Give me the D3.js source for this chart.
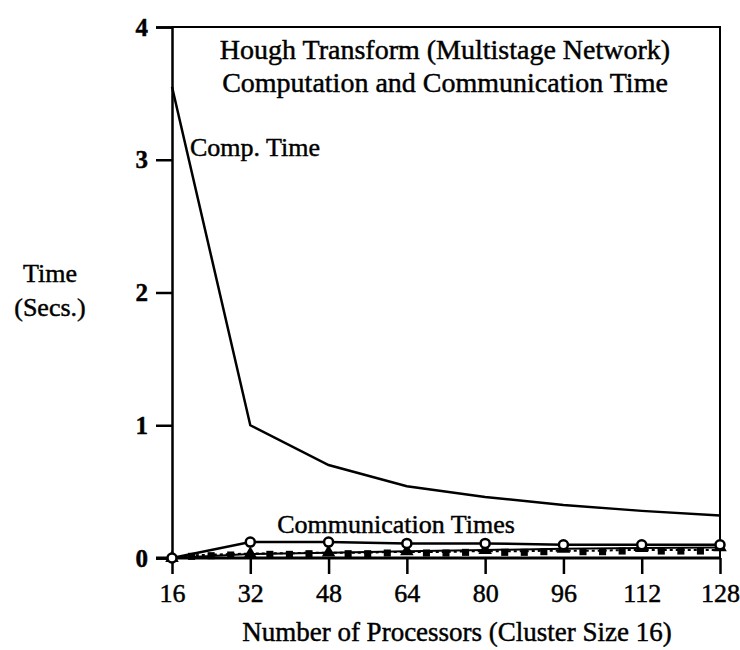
<!DOCTYPE html>
<html>
<head>
<meta charset="utf-8">
<script src="https://cdn.jsdelivr.net/npm/d3@7"></script>
<style>
body { margin: 0; background: #fff; }
text { font-family: "Liberation Serif", "DejaVu Serif", serif; fill: #000; stroke: #000; stroke-width: 0.45px; }
</style>
</head>
<body>
<div class="chart"></div>
<script>
const procs = [16, 32, 48, 64, 80, 96, 112, 128]
const compTime = [3.55, 1.0, 0.70, 0.54, 0.46, 0.40, 0.355, 0.32]
const commCircle = [0, 0.12, 0.12, 0.11, 0.11, 0.10, 0.10, 0.10]
const commTriangle = [0, 0.03, 0.04, 0.05, 0.06, 0.07, 0.075, 0.08]
const fineProcs = [20, 24, 28, 36, 40, 44, 52, 56, 60, 68, 72, 76, 84, 88, 92, 100, 104, 108, 116, 120, 124]
const commSquare = [0.02, 0.025, 0.03, 0.035, 0.035, 0.04, 0.04, 0.04, 0.045, 0.045, 0.045, 0.05, 0.05, 0.05, 0.055, 0.055, 0.055, 0.06, 0.06, 0.06, 0.06]
const yTicks = [0, 1, 2, 3, 4]
const titleLines = ['Hough Transform (Multistage Network)', 'Computation and Communication Time']

const W = 740, H = 650
const svg = d3.select('.chart').append('svg')
  .attr('width', W).attr('height', H)

const x = d3.scaleLinear().domain([16, 128]).range([172, 720])
const y = d3.scaleLinear().domain([0, 4]).range([558, 27])

// frame (top + right)
svg.append('path')
  .attr('d', `M${x(16)},${y(4)}H${x(128)}V${y(0)}`)
  .attr('fill', 'none').attr('stroke', '#000').attr('stroke-width', 2)

// y axis
const yAxis = svg.append('g')
  .attr('transform', `translate(${x(16)},0)`)
  .call(d3.axisLeft(y).tickValues(yTicks).tickSize(16).tickPadding(8).tickFormat(d3.format('d')))
yAxis.select('.domain').attr('stroke-width', 2.5)
yAxis.selectAll('.tick line').attr('stroke-width', 2.5)
yAxis.selectAll('text').style('font-size', '25px').style('font-weight', 'bold')
  .style('font-family', '"Liberation Serif", serif').attr('fill', '#000')

// x axis
const xAxis = svg.append('g')
  .attr('transform', `translate(0,${y(0)})`)
  .call(d3.axisBottom(x).tickValues(procs).tickSize(16).tickPadding(10))
xAxis.select('.domain').remove()
xAxis.append('line').attr('x1', x(16) - 16).attr('x2', x(128)).attr('stroke', '#000').attr('stroke-width', 3)
xAxis.selectAll('.tick line').attr('stroke-width', 2.5)
xAxis.selectAll('text').style('font-size', '26px')
  .style('font-family', '"Liberation Serif", serif').attr('fill', '#000')

const line = d3.line().x(d => x(d[0])).y(d => y(d[1]))

// computation time
svg.append('path')
  .datum(procs.map((p, i) => [p, compTime[i]]))
  .attr('d', line).attr('fill', 'none').attr('stroke', '#000').attr('stroke-width', 2.5)

// communication series
const sq = [[16, 0]].concat(fineProcs.map((p, i) => [p, commSquare[i]])).concat([[128, 0.06]])
svg.append('path').datum(sq).attr('d', line)
  .attr('fill', 'none').attr('stroke', '#000').attr('stroke-width', 2).attr('stroke-dasharray', '3,3')
svg.selectAll('.sq').data(fineProcs.map((p, i) => [p, commSquare[i]])).enter()
  .append('path').attr('class', 'sq')
  .attr('transform', d => `translate(${x(d[0])},${y(d[1]) + 1})`)
  .attr('d', d3.symbol().type(d3.symbolSquare).size(50))
  .attr('fill', '#000')

const tri = procs.map((p, i) => [p, commTriangle[i]])
svg.append('path').datum(tri).attr('d', line)
  .attr('fill', 'none').attr('stroke', '#000').attr('stroke-width', 2)
svg.selectAll('.tri').data(tri).enter()
  .append('path').attr('class', 'tri')
  .attr('transform', d => `translate(${x(d[0])},${y(d[1])})`)
  .attr('d', d3.symbol().type(d3.symbolTriangle).size(80))
  .attr('fill', '#000')

const circ = procs.map((p, i) => [p, commCircle[i]])
svg.append('path').datum(circ).attr('d', line)
  .attr('fill', 'none').attr('stroke', '#000').attr('stroke-width', 2.5)
svg.selectAll('.circ').data(circ).enter()
  .append('circle').attr('class', 'circ')
  .attr('cx', d => x(d[0])).attr('cy', d => y(d[1]))
  .attr('r', 4.5).attr('fill', '#fff').attr('stroke', '#000').attr('stroke-width', 2.5)

// texts
svg.selectAll('.title').data(titleLines).enter()
  .append('text').attr('class', 'title')
  .attr('x', 445).attr('y', (d, i) => 59 + i * 33)
  .attr('text-anchor', 'middle').style('font-size', '28px')
  .text(d => d)

svg.append('text').attr('x', 190).attr('y', 156).style('font-size', '26px').text('Comp. Time')
svg.append('text').attr('x', 396).attr('y', 533).attr('text-anchor', 'middle').style('font-size', '26px').text('Communication Times')

svg.append('text').attr('x', 50).attr('y', 282).attr('text-anchor', 'middle').style('font-size', '26px').text('Time')
svg.append('text').attr('x', 50).attr('y', 316).attr('text-anchor', 'middle').style('font-size', '26px').text('(Secs.)')

svg.append('text').attr('x', 457).attr('y', 641).attr('text-anchor', 'middle').style('font-size', '27px')
  .text('Number of Processors (Cluster Size 16)')
</script>
</body>
</html>
